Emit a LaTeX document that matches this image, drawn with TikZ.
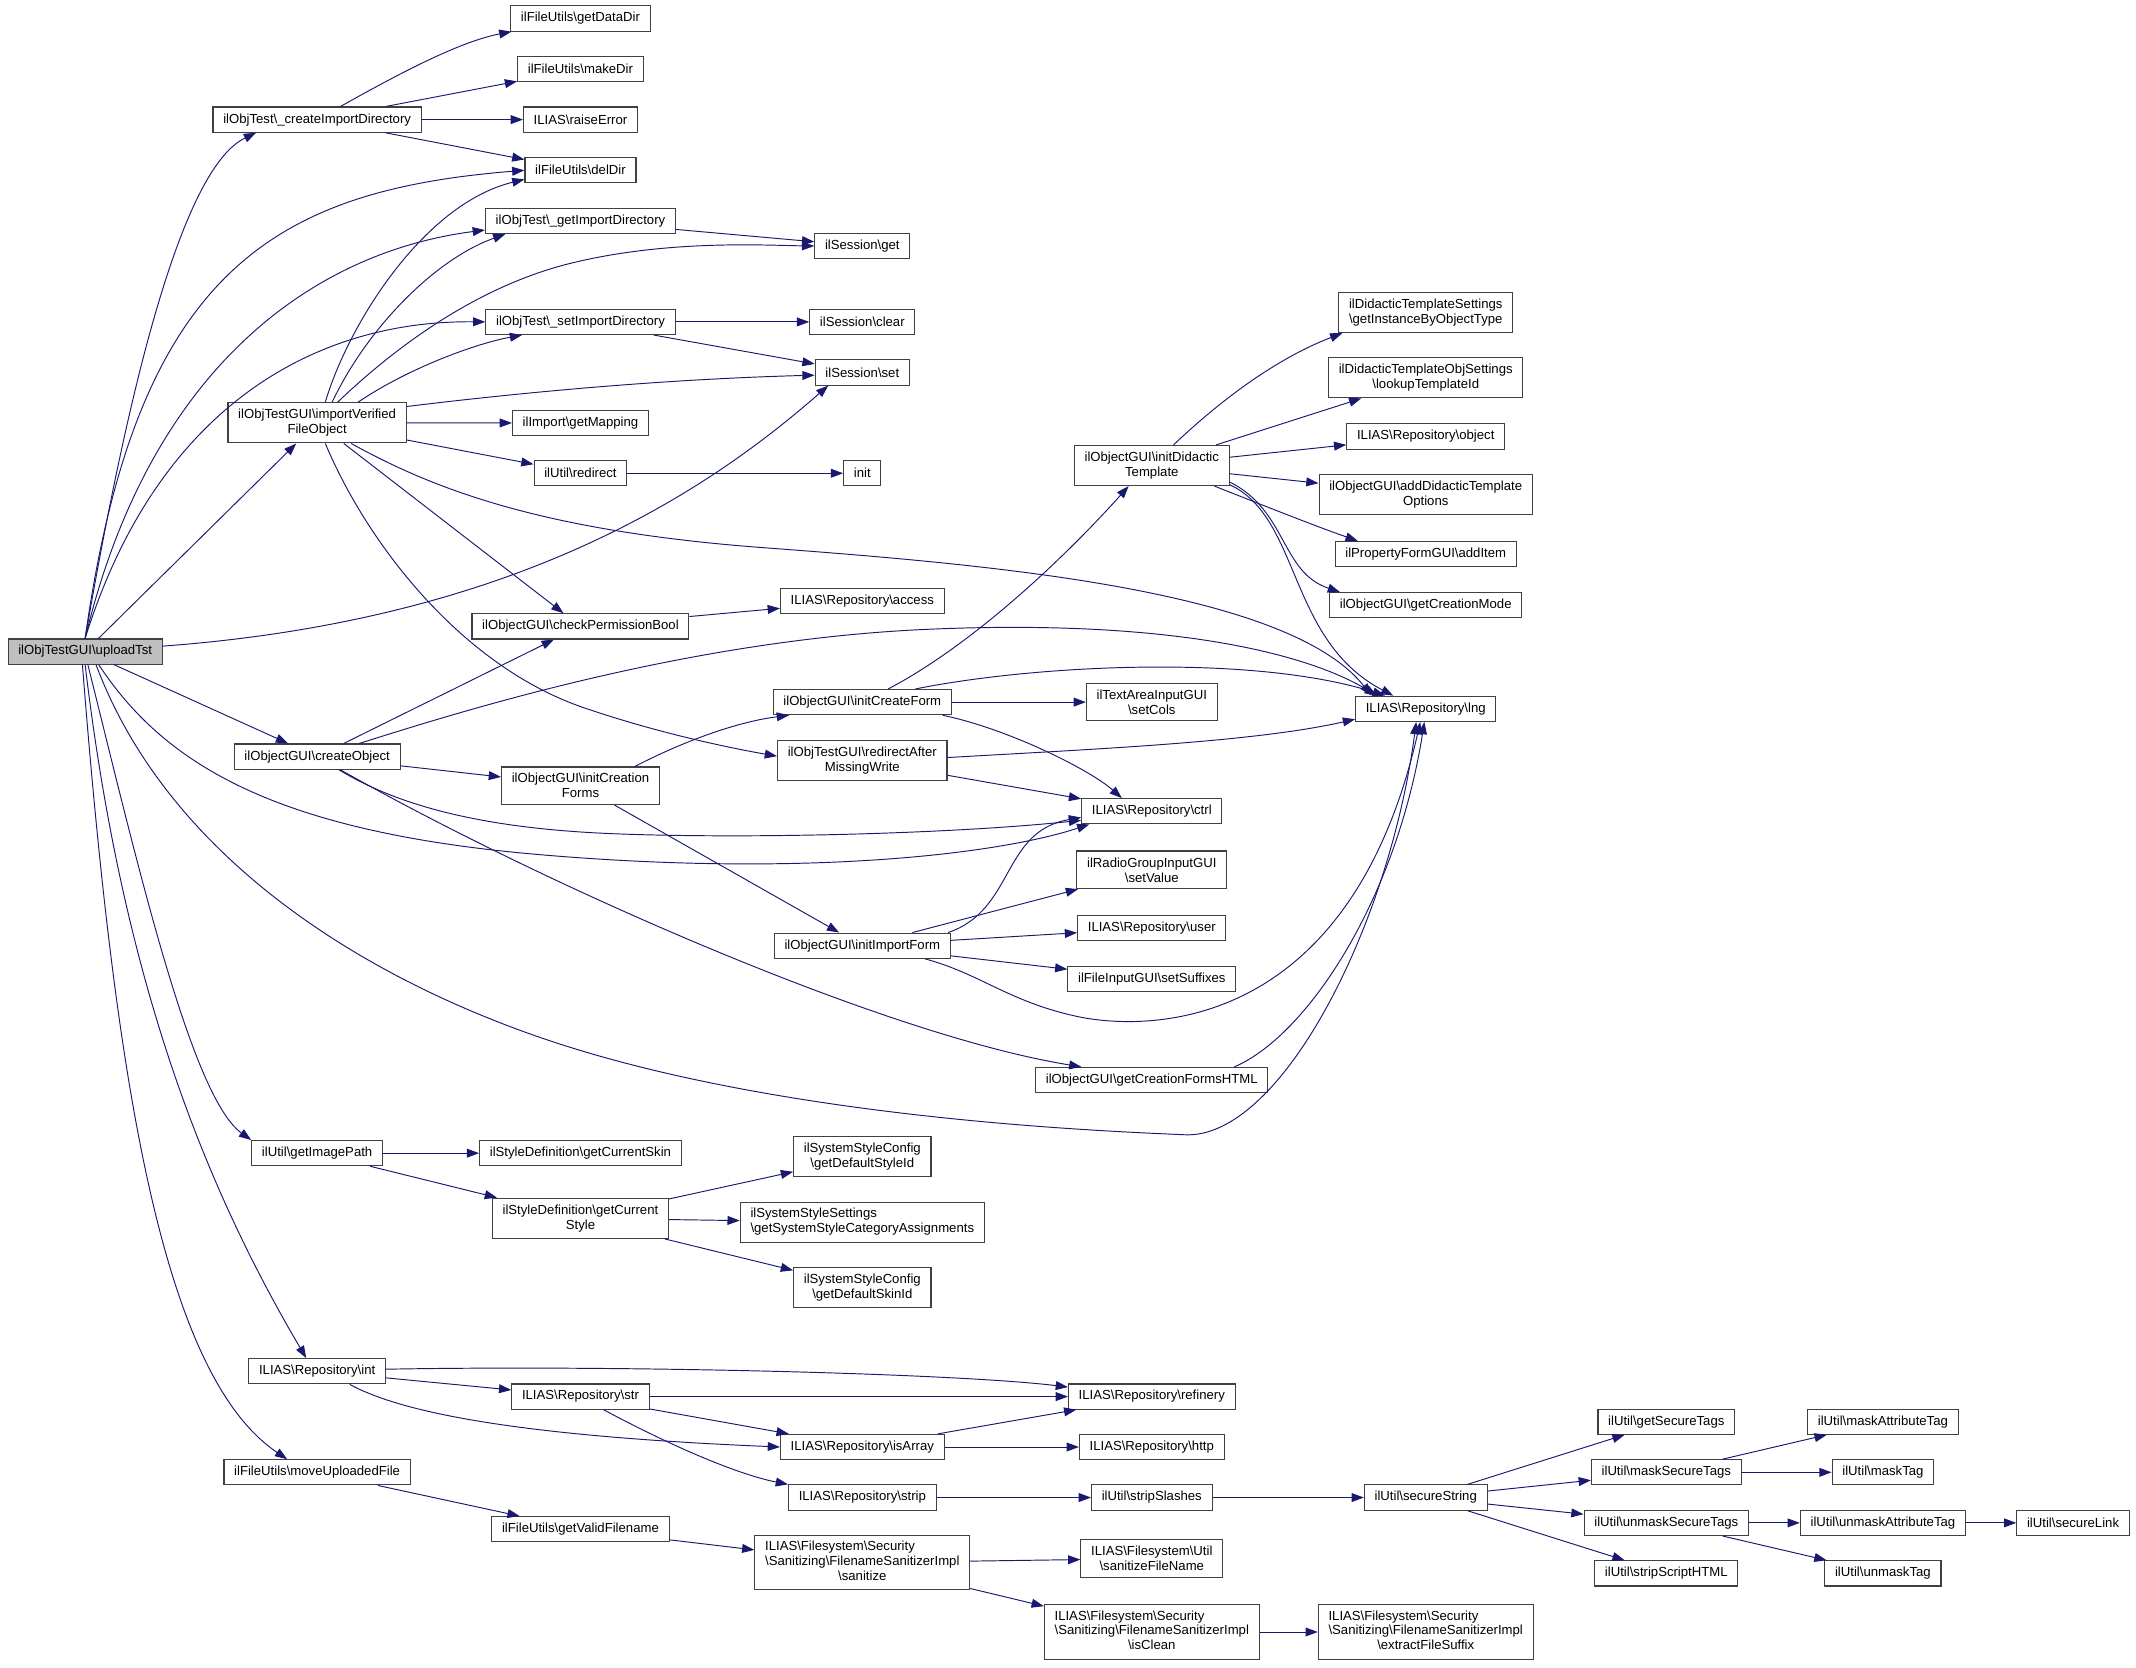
\documentclass[tikz,border=0pt]{standalone}
\usepackage{fontspec}
\setmainfont{Liberation Sans}
\usetikzlibrary{arrows.meta}
\definecolor{edgeblue}{HTML}{191970}
\definecolor{boxgray}{HTML}{404040}
\definecolor{rootgray}{HTML}{BFBFBF}
\newcommand{\bsl}{\textbackslash}
\newcommand{\ltwo}[2]{\begin{tabular}{@{}l@{}}#1\\#2\end{tabular}}
\newcommand{\lthree}[3]{\begin{tabular}{@{}l@{}}#1\\#2\\\multicolumn{1}{@{}c@{}}{#3}\end{tabular}}

\begin{document}
\begin{tikzpicture}[>={Triangle[length=9pt,width=6.5pt]},x=1pt,y=-1pt]
      \tikzstyle{every node}=[draw=boxgray,shape=rectangle,line width=0.8pt,inner xsep=7.5pt,inner ysep=4.75pt,minimum height=18.5pt,align=center,font=\fontsize{9.65}{11}\selectfont];
      \tikzstyle{root}=[fill=rootgray];
      \tikzstyle{tab}=[inner ysep=3.5pt];
      \tikzstyle{call}=[draw=edgeblue,line width=0.7pt];
      \useasboundingbox (0,0) rectangle (1568,1224);

        \path (62.5,478.3)   node[root] (uploadTst) {ilObjTestGUI\bsl uploadTst};

        \path (232.8,87.8)   node (createImportDirectory) {ilObjTest\bsl\_createImportDirectory};
        \path (232.8,310.4)  node (importVerifiedFileObject) {ilObjTestGUI\bsl importVerified\\FileObject};
        \path (232.8,555.4)  node (createObject) {ilObjectGUI\bsl createObject};
        \path (232.8,846.5)  node (getImagePath) {ilUtil\bsl getImagePath};
        \path (232.8,1006.6) node (int) {ILIAS\bsl Repository\bsl int};
        \path (232.8,1080.8) node (moveUploadedFile) {ilFileUtils\bsl moveUploadedFile};

        \path (426.1,13.6)   node (getDataDir) {ilFileUtils\bsl getDataDir};
        \path (426.1,50.8)   node (makeDir) {ilFileUtils\bsl makeDir};
        \path (426.1,87.8)   node (raiseError) {ILIAS\bsl raiseError};
        \path (426.1,125.0)  node (delDir) {ilFileUtils\bsl delDir};
        \path (426.1,162.2)  node (getImportDirectory) {ilObjTest\bsl\_getImportDirectory};
        \path (426.1,236.3)  node (setImportDirectory) {ilObjTest\bsl\_setImportDirectory};
        \path (426.1,310.5)  node (getMapping) {ilImport\bsl getMapping};
        \path (426.1,347.4)  node (redirect) {ilUtil\bsl redirect};
        \path (426.1,459.8)  node (checkPermissionBool) {ilObjectGUI\bsl checkPermissionBool};
        \path (426.1,576.8)  node (initCreationForms) {ilObjectGUI\bsl initCreation\\Forms};
        \path (426.1,846.5)  node (getCurrentSkin) {ilStyleDefinition\bsl getCurrentSkin};
        \path (426.1,894.3)  node (getCurrentStyle) {ilStyleDefinition\bsl getCurrent\\Style};
        \path (426.1,1025.2) node (str) {ILIAS\bsl Repository\bsl str};
        \path (426.1,1122.6) node (getValidFilename) {ilFileUtils\bsl getValidFilename};

        \path (633,180.6)    node (get) {ilSession\bsl get};
        \path (633,236.3)    node (clear) {ilSession\bsl clear};
        \path (633,273.4)    node (set) {ilSession\bsl set};
        \path (633,347.4)    node (init) {init};
        \path (633,441.1)    node (access) {ILIAS\bsl Repository\bsl access};
        \path (633,515.4)    node (initCreateForm) {ilObjectGUI\bsl initCreateForm};
        \path (633,558.1)    node (redirectAfterMissingWrite) {ilObjTestGUI\bsl redirectAfter\\MissingWrite};
        \path (633,694.2)    node (initImportForm) {ilObjectGUI\bsl initImportForm};
        \path (633,849.1)    node (getDefaultStyleId) {ilSystemStyleConfig\\\bsl getDefaultStyleId};
        \path (633,897.3)    node[tab] (getSystemStyleCategoryAssignments) {\ltwo{ilSystemStyleSettings}{\bsl getSystemStyleCategoryAssignments}};
        \path (633,944.9)    node (getDefaultSkinId) {ilSystemStyleConfig\\\bsl getDefaultSkinId};
        \path (633,1062.2)   node (isArray) {ILIAS\bsl Repository\bsl isArray};
        \path (633,1099.3)   node (strip) {ILIAS\bsl Repository\bsl strip};
        \path (633,1147.1)   node[tab] (sanitize) {\lthree{ILIAS\bsl Filesystem\bsl Security}{\bsl Sanitizing\bsl FilenameSanitizerImpl}{\bsl sanitize}};

        \path (845.5,341.7)  node (initDidacticTemplate) {ilObjectGUI\bsl initDidactic\\Template};
        \path (845.5,515.4)  node (setCols) {ilTextAreaInputGUI\\\bsl setCols};
        \path (845.5,595.5)  node (ctrl) {ILIAS\bsl Repository\bsl ctrl};
        \path (845.5,638.5)  node (setValue) {ilRadioGroupInputGUI\\\bsl setValue};
        \path (845.5,681.4)  node (user) {ILIAS\bsl Repository\bsl user};
        \path (845.5,718.6)  node (setSuffixes) {ilFileInputGUI\bsl setSuffixes};
        \path (845.5,792.8)  node (getCreationFormsHTML) {ilObjectGUI\bsl getCreationFormsHTML};
        \path (845.5,1025.2) node (refinery) {ILIAS\bsl Repository\bsl refinery};
        \path (845.5,1062.2) node (http) {ILIAS\bsl Repository\bsl http};
        \path (845.5,1099.3) node (stripSlashes) {ilUtil\bsl stripSlashes};
        \path (845.5,1144.1) node (sanitizeFileName) {ILIAS\bsl Filesystem\bsl Util\\\bsl sanitizeFileName};
        \path (845.5,1198)   node[tab] (isClean) {\lthree{ILIAS\bsl Filesystem\bsl Security}{\bsl Sanitizing\bsl FilenameSanitizerImpl}{\bsl isClean}};

        \path (1046.6,229.4) node (getInstanceByObjectType) {ilDidacticTemplateSettings\\\bsl getInstanceByObjectType};
        \path (1046.6,277.3) node (lookupTemplateId) {ilDidacticTemplateObjSettings\\\bsl lookupTemplateId};
        \path (1046.6,320.4) node (object) {ILIAS\bsl Repository\bsl object};
        \path (1046.6,363)   node (addDidacticTemplateOptions) {ilObjectGUI\bsl addDidacticTemplate\\Options};
        \path (1046.6,406.7) node (addItem) {ilPropertyFormGUI\bsl addItem};
        \path (1046.6,444.3) node (getCreationMode) {ilObjectGUI\bsl getCreationMode};
        \path (1046.6,520.3) node (lng) {ILIAS\bsl Repository\bsl lng};
        \path (1046.6,1099.3) node (secureString) {ilUtil\bsl secureString};
        \path (1046.6,1198)  node[tab] (extractFileSuffix) {\lthree{ILIAS\bsl Filesystem\bsl Security}{\bsl Sanitizing\bsl FilenameSanitizerImpl}{\bsl extractFileSuffix}};

        \path (1223.2,1043.6) node (getSecureTags) {ilUtil\bsl getSecureTags};
        \path (1223.2,1080.8) node (maskSecureTags) {ilUtil\bsl maskSecureTags};
        \path (1223.2,1117.9) node (unmaskSecureTags) {ilUtil\bsl unmaskSecureTags};
        \path (1223.2,1155)   node (stripScriptHTML) {ilUtil\bsl stripScriptHTML};
        \path (1382.2,1043.6) node (maskAttributeTag) {ilUtil\bsl maskAttributeTag};
        \path (1382.2,1080.8) node (maskTag) {ilUtil\bsl maskTag};
        \path (1382.2,1117.9) node (unmaskAttributeTag) {ilUtil\bsl unmaskAttributeTag};
        \path (1382.2,1155)   node (unmaskTag) {ilUtil\bsl unmaskTag};
        \path (1521.8,1117.9) node (secureLink) {ilUtil\bsl secureLink};

        \path[->,call] (uploadTst.north) .. controls (90,310) and (130,125) .. ([xshift=32pt]createImportDirectory.south west);
        \path[->,call] (uploadTst.north) .. controls (100,200) and (200,140) .. (delDir.west);
        \path[->,call] (uploadTst.north) .. controls (110,270) and (230,185) .. ([yshift=3pt]getImportDirectory.south west);
        \path[->,call] (uploadTst.north) .. controls (115,300) and (230,235) .. (setImportDirectory.west);
        \path[->,call] (uploadTst) -- (importVerifiedFileObject);
        \path[->,call] ([yshift=4pt]uploadTst.east) .. controls (380,455) and (520,360) .. ([xshift=10pt]set.south west);
        \path[->,call] (uploadTst) -- (createObject);
        \path[->,call] ([xshift=10pt]uploadTst.south) .. controls (120,560) and (200,610) .. (392,627) .. controls (584,644) and (730,628) .. ([xshift=6pt]ctrl.south west);
        \path[->,call] ([xshift=8pt]uploadTst.south) .. controls (120,620) and (250,710) .. (392,760) .. controls (562,820) and (800,830) .. (870,833) .. controls (940,836) and (1020,680) .. ([xshift=-7pt]lng.south);
        \path[->,call] ([xshift=2pt]uploadTst.south) .. controls (100,630) and (140,805) .. (getImagePath.north west);
        \path[->,call] (uploadTst.south) .. controls (90,720) and (150,870) .. ([xshift=-8pt]int.north);
        \path[->,call] ([xshift=-2pt]uploadTst.south) .. controls (85,800) and (120,1010) .. ([xshift=-22pt]moveUploadedFile.north);

        \path[->,call] (createImportDirectory) .. controls (300,50) and (340,30) .. (getDataDir);
        \path[->,call] (createImportDirectory) -- (makeDir);
        \path[->,call] (createImportDirectory) -- (raiseError);
        \path[->,call] (createImportDirectory) -- (delDir);

        \path[->,call] ([xshift=6pt]importVerifiedFileObject.north) .. controls (255,240) and (310,150) .. ([yshift=3pt]delDir.south west);
        \path[->,call] ([xshift=11pt]importVerifiedFileObject.north) .. controls (270,240) and (320,190) .. ([xshift=15pt]getImportDirectory.south west);
        \path[->,call] ([xshift=15pt]importVerifiedFileObject.north) .. controls (290,255) and (350,210) .. (420,193) .. controls (490,176) and (560,180) .. (get.west);
        \path[->,call] ([xshift=30pt]importVerifiedFileObject.north) .. controls (300,270) and (350,252) .. ([xshift=27pt]setImportDirectory.south west);
        \path[->,call] ([yshift=12pt]importVerifiedFileObject.east) .. controls (400,286) and (500,278) .. ([yshift=-2pt]set.west);
        \path[->,call] (importVerifiedFileObject) -- (getMapping);
        \path[->,call] (importVerifiedFileObject) -- (redirect);
        \path[->,call] (importVerifiedFileObject) -- (checkPermissionBool);
        \path[->,call] ([xshift=25pt]importVerifiedFileObject.south) .. controls (320,360) and (400,390) .. (560,402) .. controls (720,414) and (945,432) .. ([xshift=12pt]lng.north west);
        \path[->,call] ([xshift=6pt]importVerifiedFileObject.south) .. controls (270,400) and (340,490) .. (430,520) .. controls (480,537) and (530,548) .. ([yshift=3pt]redirectAfterMissingWrite.west);

        \path[->,call] (createObject) -- (checkPermissionBool);
        \path[->,call] (createObject) .. controls (330,525) and (500,470) .. (680,462) .. controls (860,454) and (960,480) .. ([xshift=16pt]lng.north west);
        \path[->,call] (createObject) -- (initCreationForms);
        \path[->,call] (createObject) .. controls (290,590) and (350,608) .. (450,612) .. controls (550,616) and (700,612) .. ([yshift=3pt]ctrl.south west);
        \path[->,call] (createObject) .. controls (400,650) and (650,760) .. ([xshift=34pt]getCreationFormsHTML.north west);

        \path[->,call] (getImportDirectory) -- (get);
        \path[->,call] (setImportDirectory) -- (clear);
        \path[->,call] (setImportDirectory) -- (set);
        \path[->,call] (redirect) -- (init);
        \path[->,call] (checkPermissionBool) -- (access);
        \path[->,call] ([xshift=40pt]initCreationForms.north) .. controls (500,545) and (540,530) .. ([xshift=12pt]initCreateForm.south west);
        \path[->,call] (initCreationForms) -- (initImportForm);

        \path[->,call] ([xshift=19pt]initCreateForm.north) .. controls (720,470) and (790,400) .. ([xshift=-17pt]initDidacticTemplate.south);
        \path[->,call] (initCreateForm) -- (setCols);
        \path[->,call] ([xshift=39pt]initCreateForm.north) .. controls (760,488) and (920,480) .. ([xshift=22pt]lng.north west);
        \path[->,call] ([xshift=59pt]initCreateForm.south) .. controls (740,535) and (800,565) .. ([xshift=-22pt]ctrl.north);
        \path[->,call] ([yshift=2pt]redirectAfterMissingWrite.east) .. controls (800,550) and (920,545) .. ([yshift=2pt]lng.south west);
        \path[->,call] (redirectAfterMissingWrite) -- (ctrl);
        \path[->,call] (initImportForm) -- (setValue);
        \path[->,call] ([xshift=-2pt]initImportForm.north east) .. controls (745,668) and (735,610) .. ([yshift=5pt]ctrl.south west);
        \path[->,call] (initImportForm) -- (user);
        \path[->,call] (initImportForm) -- (setSuffixes);
        \path[->,call] ([xshift=46pt]initImportForm.south) .. controls (720,715) and (740,735) .. (790,746) .. controls (840,757) and (990,760) .. ([xshift=-4pt]lng.south);
        \path[->,call] ([xshift=-25pt]getCreationFormsHTML.north east) .. controls (960,760) and (1025,660) .. ([xshift=-1pt]lng.south);

        \path[->,call] ([xshift=16pt]initDidacticTemplate.north) .. controls (900,290) and (940,262) .. ([xshift=3pt]getInstanceByObjectType.south west);
        \path[->,call] (initDidacticTemplate) -- (lookupTemplateId);
        \path[->,call] (initDidacticTemplate) -- (object);
        \path[->,call] (initDidacticTemplate) -- (addDidacticTemplateOptions);
        \path[->,call] ([xshift=46pt]initDidacticTemplate.south) .. controls (930,372) and (965,386) .. ([xshift=17pt]addItem.north west);
        \path[->,call] ([yshift=3pt]initDidacticTemplate.south east) .. controls (945,375) and (940,420) .. ([xshift=8pt]getCreationMode.north west);
        \path[->,call] ([yshift=1pt]initDidacticTemplate.south east) .. controls (955,380) and (945,470) .. ([xshift=28pt]lng.north west);

        \path[->,call] (getImagePath) -- (getCurrentSkin);
        \path[->,call] (getImagePath) -- (getCurrentStyle);
        \path[->,call] (getCurrentStyle) -- (getDefaultStyleId);
        \path[->,call] (getCurrentStyle) -- (getSystemStyleCategoryAssignments);
        \path[->,call] (getCurrentStyle) -- (getDefaultSkinId);

        \path[->,call] ([yshift=1.5pt]int.east) .. controls (450,1002) and (700,1008) .. ([yshift=7pt]refinery.west);
        \path[->,call] (int) -- (str);
        \path[->,call] ([xshift=24pt]int.south) .. controls (300,1040) and (400,1055) .. (isArray.west);
        \path[->,call] (str) -- (refinery);
        \path[->,call] (str) -- (isArray);
        \path[->,call] ([xshift=17pt]str.south) .. controls (490,1060) and (540,1082) .. (strip.north west);
        \path[->,call] (isArray) -- (refinery);
        \path[->,call] (isArray) -- (http);
        \path[->,call] (strip) -- (stripSlashes);
        \path[->,call] (stripSlashes) -- (secureString);
        \path[->,call] (secureString) -- (getSecureTags);
        \path[->,call] (secureString) -- (maskSecureTags);
        \path[->,call] (secureString) -- (unmaskSecureTags);
        \path[->,call] (secureString) -- (stripScriptHTML);
        \path[->,call] (maskSecureTags) -- (maskAttributeTag);
        \path[->,call] (maskSecureTags) -- (maskTag);
        \path[->,call] (unmaskSecureTags) -- (unmaskAttributeTag);
        \path[->,call] (unmaskSecureTags) -- (unmaskTag);
        \path[->,call] (unmaskAttributeTag) -- (secureLink);

        \path[->,call] (moveUploadedFile) -- (getValidFilename);
        \path[->,call] (getValidFilename) -- (sanitize);
        \path[->,call] (sanitize) -- (sanitizeFileName);
        \path[->,call] (sanitize) -- (isClean);
        \path[->,call] (isClean) -- (extractFileSuffix);
    \end{tikzpicture}
\end{document}
